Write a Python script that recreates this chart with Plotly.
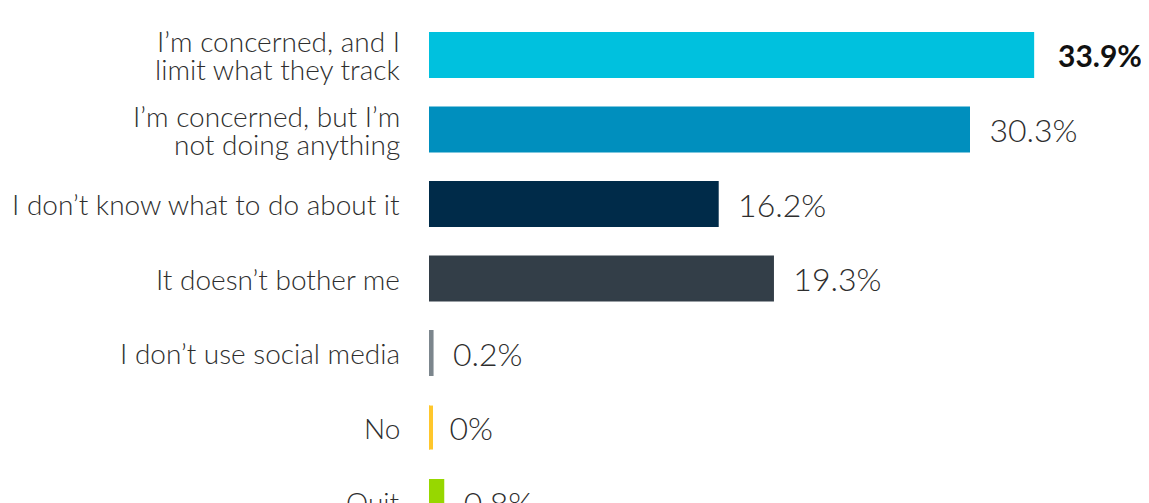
import plotly.graph_objects as go

categories = [
    "I’m concerned, and I<br>limit what they track",
    "I’m concerned, but I’m<br>not doing anything",
    "I don’t know what to do about it",
    "It doesn’t bother me",
    "I don’t use social media",
    "No",
    "Quit",
]
values = [33.9, 30.3, 16.2, 19.3, 0.2, 0.0, 0.8]
value_labels = ["33.9%", "30.3%", "16.2%", "19.3%", "0.2%", "0%", "0.8%"]
colors = ["#00C1DE", "#008FBE", "#002B49", "#333E48", "#7C868D", "#FFC72C", "#97D700"]

BAR_W = 0.59
TEXT_COLOR = "#2e2e2e"

texts = []
for i, lab in enumerate(value_labels):
    if i == 0:
        texts.append("\u00a0" * 3 + "<b>" + lab + "</b>")
    else:
        texts.append("\u00a0" * 2 + lab)

text_colors = ["#111111"] + [TEXT_COLOR] * (len(values) - 1)
text_sizes = [30] + [32] * (len(values) - 1)
text_weights = [700] + [300] * (len(values) - 1)

fig = go.Figure(
    go.Bar(
        y=list(range(len(categories))),
        x=values,
        orientation="h",
        marker=dict(color=colors, line=dict(color=colors, width=2)),
        width=BAR_W,
        text=texts,
        textposition="outside",
        cliponaxis=False,
        constraintext="none",
        textfont=dict(family="Lato", size=text_sizes, color=text_colors, weight=text_weights),
        hoverinfo="skip",
    )
)

# stub for zero-valued bars so they remain visible
for i, v in enumerate(values):
    if v == 0:
        fig.add_shape(
            type="rect", xref="x", yref="y", xsizemode="pixel", xanchor=v,
            x0=0, x1=4, y0=i - BAR_W / 2, y1=i + BAR_W / 2,
            fillcolor=colors[i], line=dict(width=0),
        )

# category labels, one annotation per line for tight line spacing
LINE_H = 28
for i, cat in enumerate(categories):
    lines = cat.split("<br>")
    n = len(lines)
    for j, line in enumerate(lines):
        fig.add_annotation(
            x=0, y=i, xref="x", yref="y", text=line, showarrow=False,
            xanchor="right", yanchor="middle", xshift=-28,
            yshift=((n - 1) / 2 - j) * LINE_H,
            borderpad=0,
            font=dict(family="Lato", size=28, color=TEXT_COLOR, weight=300),
        )

fig.update_layout(
    width=1141,
    height=495,
    margin=dict(l=421, r=0, t=0, b=0),
    paper_bgcolor="white",
    plot_bgcolor="white",
    showlegend=False,
    font=dict(family="Lato", size=24, color=TEXT_COLOR, weight=300),
)
fig.update_xaxes(range=[0, 40.4], visible=False, fixedrange=True)
fig.update_yaxes(
    range=[6.013, -0.631],
    visible=False,
    showgrid=False,
    zeroline=False,
    fixedrange=True,
)

fig.write_html("out.html")
